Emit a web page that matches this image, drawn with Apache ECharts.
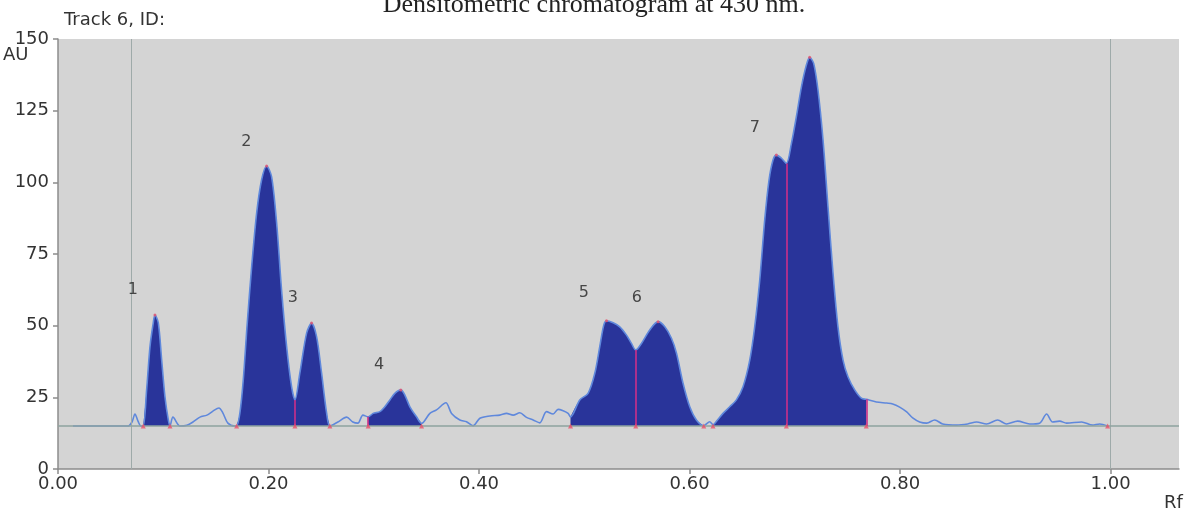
<!DOCTYPE html>
<html>
<head>
<meta charset="utf-8">
<script src="https://cdn.jsdelivr.net/npm/echarts@6/dist/echarts.min.js"></script>
<style>
html,body{margin:0;padding:0;background:#fff;}
#chart{width:1188px;height:508px;}
</style>
</head>
<body>
<div id="chart"></div>
<script>
// ---- Data ----
const signalRf = [0.0142,0.0665,0.0703,0.0731,0.0760,0.0788,
 0.0810,0.0842,0.0874,0.0905,0.0921,0.0953,0.0985,0.1016,0.1048,0.1064,
 0.1092,0.1159,0.1225,0.1282,0.1349,0.1415,0.1472,0.1529,0.1567,0.1614,0.1681,
 0.1697,0.1728,0.1760,0.1798,0.1840,0.1887,0.1934,0.1982,0.2029,0.2077,0.2124,0.2172,0.2219,0.2251,0.2298,0.2362,0.2409,0.2457,0.2504,0.2552,0.2583,
 0.2659,0.2742,0.2801,0.2849,0.2897,
 0.2947,0.2994,0.3058,0.3105,0.3153,0.3200,0.3257,0.3295,0.3343,0.3406,0.3454,
 0.3533,0.3596,0.3685,0.3739,0.3818,0.3881,0.3944,0.4008,0.4103,0.4197,0.4261,0.4324,0.4387,0.4451,0.4514,0.4577,0.4641,0.4704,0.4751,0.4799,0.4846,
 0.4869,0.4957,0.5036,0.5100,0.5147,0.5185,0.5211,0.5274,0.5337,0.5401,0.5448,0.5489,0.5543,0.5622,0.5701,0.5765,0.5828,0.5876,0.5938,0.6002,0.6065,0.6135,
 0.6192,
 0.6223,0.6239,0.6318,0.6382,0.6445,0.6508,0.6572,0.6619,0.6667,0.6714,0.6755,0.6793,0.6825,0.6873,0.6920,0.6968,0.7015,0.7063,0.7110,0.7141,0.7179,0.7220,0.7268,0.7315,0.7363,0.7410,0.7458,0.7505,0.7569,0.7632,0.7679,
 0.7775,0.7873,0.7930,0.7996,0.8063,0.8120,0.8186,0.8253,0.8329,0.8405,0.8538,0.8642,0.8727,0.8822,0.8927,0.9012,0.9117,0.9231,0.9326,0.9392,0.9449,0.9516,0.9582,0.9725,0.9829,0.9896,0.9972];
const signalAu = [15.0,15.0,16.4,19.2,16.7,15.0,
 15.0,27.6,42.7,51.0,53.7,51.0,38.0,25.2,17.1,15.0,
 18.1,15.0,15.3,16.4,18.1,18.8,20.2,21.3,19.5,16.0,15.0,
 15.0,19.5,31.0,50.9,70.6,89.2,100.8,105.7,102.0,85.8,62.4,42.7,28.7,24.1,33.5,47.4,50.9,46.1,33.5,19.5,15.0,
 16.4,18.1,16.4,16.0,18.8,
 18.2,19.4,20.0,21.7,24.1,26.4,27.6,25.8,21.7,18.2,15.9,
 19.4,20.6,23.1,19.4,17.1,16.5,15.1,17.7,18.5,18.8,19.4,18.8,19.6,18.0,17.1,16.1,20.0,19.2,20.8,20.3,19.4,
 18.2,24.1,26.4,33.4,42.7,50.2,51.7,51.0,49.6,46.7,43.8,41.5,43.8,48.5,51.4,49.6,45.6,40.4,29.9,21.7,17.1,15.1,
 16.5,
 15.5,15.9,19.4,21.7,24.1,28.7,38.0,49.6,65.9,86.8,100.8,107.8,109.5,108.4,106.6,113.6,122.9,133.3,140.9,143.6,141.5,132.2,114.8,91.5,68.3,49.6,38.0,32.2,27.6,24.7,24.3,
 23.4,23.0,22.7,21.6,19.9,17.8,16.4,16.0,17.1,15.7,15.3,15.7,16.4,15.7,17.1,15.7,16.7,15.7,16.0,19.2,16.4,16.7,16.0,16.4,15.3,15.7,15.0];

// peak regions (start, end) in Rf
const regionStart = [0.0810, 0.1697, 0.2947, 0.4869, 0.6223];
const regionEnd   = [0.1064, 0.2583, 0.3454, 0.6135, 0.7679];
// split / edge lines (Rf)
const splitRf = [0.2251, 0.2947, 0.5489, 0.6920, 0.7679];
// boundary markers on the baseline (Rf)
const boundaryRf = [0.0810, 0.1064, 0.1697, 0.2251, 0.2583, 0.2947, 0.3454, 0.4869, 0.5489, 0.6135, 0.6223, 0.6920, 0.7679, 0.9972];
// peak apex markers
const apexRf = [0.0921, 0.1982, 0.2409, 0.3257, 0.5211, 0.5701, 0.6825, 0.7141];
const apexAu = [53.7, 105.7, 50.9, 27.6, 51.7, 51.4, 109.5, 143.6];
// peak number labels
const peakNames = ['1','2','3','4','5','6','7'];
const peakLabelRf = [0.071, 0.179, 0.223, 0.305, 0.4995, 0.550, 0.662];
const peakLabelAu = [62.4, 114.0, 59.6, 36.3, 61.4, 59.6, 119.0];
const baselineAu = 15;
const guideRf = [0.07, 1.00];
const xTicks = [0, 0.2, 0.4, 0.6, 0.8, 1.0];

// ---- build ----
const signal = signalRf.map((r, i) => [r, signalAu[i]]);
function auAt(r) {
  let best = 0, d = 1e9;
  signalRf.forEach((v, i) => { if (Math.abs(v - r) < d) { d = Math.abs(v - r); best = i; } });
  return signalAu[best];
}
const FONT = 'DejaVu Sans';
const fillSeries = regionStart.map((s, k) => ({
  type: 'line',
  data: signal.filter(p => p[0] >= s - 1e-6 && p[0] <= regionEnd[k] + 1e-6),
  smooth: 0.3,
  showSymbol: false,
  silent: true,
  lineStyle: { width: 0 },
  areaStyle: { color: '#29349a', opacity: 1, origin: baselineAu },
  z: 2
}));

const chart = echarts.init(document.getElementById('chart'), null, { renderer: 'canvas' });
chart.setOption({
  animation: false,
  backgroundColor: '#ffffff',
  grid: { left: 58, right: 9, top: 39, bottom: 39, show: true, backgroundColor: '#d4d4d4', borderWidth: 0 },
  xAxis: {
    type: 'value', min: 0, max: 1.065, interval: 0.2,
    axisLine: { show: true, lineStyle: { color: '#8c8c8c', width: 1.5 } },
    axisTick: { show: true, length: 5, customValues: xTicks, lineStyle: { color: '#8c8c8c', width: 1.5 } },
    axisLabel: { customValues: xTicks, formatter: v => v.toFixed(2), fontSize: 18, fontFamily: FONT, color: '#333', margin: 6 },
    splitLine: { show: false }
  },
  yAxis: {
    type: 'value', min: 0, max: 150, interval: 25,
    axisLine: { show: true, lineStyle: { color: '#8c8c8c', width: 1.5 } },
    axisTick: { show: true, length: 5, lineStyle: { color: '#8c8c8c', width: 1.5 } },
    axisLabel: { fontSize: 18, fontFamily: FONT, color: '#333', margin: 9 },
    splitLine: { show: false }
  },
  graphic: [
    { type: 'text', left: 'center', top: -8, style: { text: 'Densitometric chromatogram at 430 nm.', font: '26px "Liberation Serif"', fill: '#222' } },
    { type: 'text', left: 64, top: 11, style: { text: 'Track 6, ID:', font: '18px "DejaVu Sans"', fill: '#333' } },
    { type: 'text', left: 3, top: 46, style: { text: 'AU', font: '18px "DejaVu Sans"', fill: '#333' } },
    { type: 'text', left: 1164, top: 494, style: { text: 'Rf', font: '18px "DejaVu Sans"', fill: '#333' } }
  ],
  series: [
    ...fillSeries,
    {
      type: 'line',
      data: signal,
      smooth: 0.3,
      showSymbol: false,
      silent: true,
      lineStyle: { color: '#5f88dc', width: 1.6 },
      z: 4,
      markLine: {
        silent: true, symbol: 'none', label: { show: false },
        data: [
          ...guideRf.map(r => ({ xAxis: r, lineStyle: { color: '#9eaaa9', width: 1, type: 'solid' } })),
          { yAxis: baselineAu, lineStyle: { color: '#8ea39f', width: 1.5, type: 'solid' } },
          ...splitRf.map(r => [
            { coord: [r, baselineAu], lineStyle: { color: '#cc2f8a', width: 1.6, type: 'solid' } },
            { coord: [r, auAt(r)] }
          ])
        ]
      }
    },
    {
      type: 'scatter',
      data: boundaryRf.map(r => [r, baselineAu]),
      symbol: 'triangle', symbolSize: 5, silent: true,
      itemStyle: { color: '#e8506a' }, z: 6
    },
    {
      type: 'scatter',
      data: apexRf.map((r, i) => [r, apexAu[i]]),
      symbol: 'circle', symbolSize: 3, silent: true,
      itemStyle: { color: '#e8506a' }, z: 6
    },
    {
      type: 'scatter',
      data: peakLabelRf.map((r, i) => ({ value: [r, peakLabelAu[i]], name: peakNames[i] })),
      symbolSize: 1, silent: true,
      itemStyle: { color: 'rgba(0,0,0,0)' },
      label: { show: true, position: 'inside', formatter: p => p.name, fontSize: 16, fontFamily: FONT, color: '#222' },
      z: 7
    }
  ]
});
</script>
</body>
</html>
